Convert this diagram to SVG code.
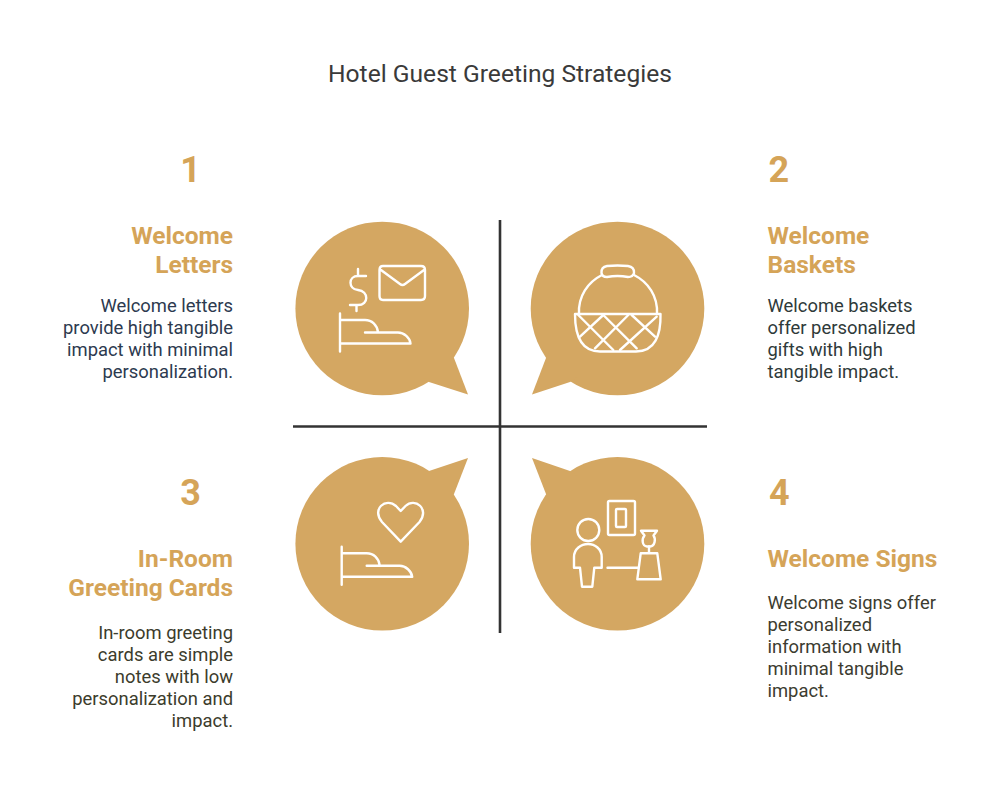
<svg xmlns="http://www.w3.org/2000/svg" width="1000" height="794" viewBox="0 0 1000 794">
<style>
text{font-family:Roboto,"Liberation Sans",sans-serif}
.t{font-size:24.6px;fill:#3a3a3a;text-anchor:middle}
.n{font-size:36px;font-weight:700;fill:#d5a458}
.h{font-size:24.5px;font-weight:700;fill:#d5a458}
.d{font-size:18.4px}
.e{text-anchor:end}
.b{fill:#d4a762}
.i{fill:none;stroke:#fff;stroke-width:2.4;stroke-linecap:round;stroke-linejoin:round}
.c{stroke:#333;stroke-width:2.6;fill:none}
</style>
<rect width="1000" height="794" fill="#fff"/>
<text class="t" x="500" y="82">Hotel Guest Greeting Strategies</text>
<g id="connectors">
<line class="c" x1="500" y1="220" x2="500" y2="633"/>
<line class="c" x1="293" y1="426.500" x2="707" y2="426.500"/>
</g>
<g id="node-1">
<circle class="b" cx="382.200" cy="308.500" r="86.800"/>
<polygon class="b" points="450,350 454,358 468,394.500 429,382 420,375"/>
<path class="i" d="M383,266 H421 Q425,266 425,270 V296 Q425,300 421,300 H383 Q379.500,300 379.500,296 V270 Q379.500,266 383,266 Z M381,270 L400,284 Q402.500,286 405,284 L424,270"/>
<path class="i" d="M366,276 H358 C348,276 348,289 358,290 C369,291 369,305 358,305 H350 M358,269 V276 M356.500,305 V311"/>
<path class="i" d="M340,313.500 V351.500 M340,320 H365 C372,320 377,325 378,332 M365,332.500 H398 C404,332.500 410,338 410.500,343.500 H340"/>
<text class="n e" x="201" y="182">1</text>
<text class="h e" x="233" y="244">Welcome</text>
<text class="h e" x="233" y="273">Letters</text>
<g fill="#2d3a4f">
<text class="d e" x="233" y="312">Welcome letters</text>
<text class="d e" x="233" y="334">provide high tangible</text>
<text class="d e" x="233" y="356">impact with minimal</text>
<text class="d e" x="233" y="378">personalization.</text>
</g>
</g>
<g id="node-2">
<circle class="b" cx="617.500" cy="308.500" r="86.800"/>
<polygon class="b" points="550,350 546,358 532,394.500 570,382 580,375"/>
<path class="i" d="M607,266 Q617.500,265 628,266 Q634.500,267 634,273 Q633,277 628,277 Q617.500,275 607,277 Q602,277 601.500,273 Q601,267 607,266 Z"/>
<path class="i" d="M579,314 C578,296 588,282 602,275 M634,275 C648,282 658,296 657,314"/>
<path class="i" d="M575,314 H660.500 C661,335 655,351.500 636,351.500 H600 C581,351.500 575,335 575,314 Z"/>
<path class="i" d="M578.300,315 L613.300,350 M603.300,315 L636.700,348.300 M631.700,315 L655,336.700 M656.700,316.700 L620,350 M628.300,315 L595,348.300 M603.300,315 L580,336.700"/>
<text class="n" x="768.500" y="182">2</text>
<text class="h" x="767.500" y="244">Welcome</text>
<text class="h" x="767.500" y="273">Baskets</text>
<g fill="#2f3a3a">
<text class="d" x="767.500" y="312">Welcome baskets</text>
<text class="d" x="767.500" y="334">offer personalized</text>
<text class="d" x="767.500" y="356">gifts with high</text>
<text class="d" x="767.500" y="378">tangible impact.</text>
</g>
</g>
<g id="node-3">
<circle class="b" cx="382.200" cy="543.800" r="86.800"/>
<polygon class="b" points="450,502 454,494 468,458 429,471 420,478"/>
<path class="i" d="M400.700,541.700 L382,522 C371,509 386,497 396,506 L400.700,511 L405.500,506 C415,497 430,509 419.500,522 Z"/>
<path class="i" d="M341.700,546.800 V584.800 M341.700,553.300 H366.700 C373.700,553.300 378.700,558.300 379.700,565.300 M366.700,565.800 H399.700 C405.700,565.800 411.700,571.300 412.200,576.800 H341.700"/>
<text class="n e" x="201" y="505">3</text>
<text class="h e" x="233" y="567">In-Room</text>
<text class="h e" x="233" y="596">Greeting Cards</text>
<g fill="#3c3c2c">
<text class="d e" x="233" y="639">In-room greeting</text>
<text class="d e" x="233" y="661">cards are simple</text>
<text class="d e" x="233" y="683">notes with low</text>
<text class="d e" x="233" y="705">personalization and</text>
<text class="d e" x="233" y="727">impact.</text>
</g>
</g>
<g id="node-4">
<circle class="b" cx="617.500" cy="543.800" r="86.800"/>
<polygon class="b" points="550,502 546,494 532,458 570,471 580,478"/>
<rect class="i" x="608" y="501" width="27" height="34" rx="1.500"/>
<rect class="i" x="616" y="509" width="10" height="18" rx="1"/>
<circle class="i" cx="588.300" cy="530" r="11"/>
<path class="i" d="M582,586.700 L580,567.700 H574 V557 C574,549 581,544 588,544 C595,544 601.700,549 601.700,557 V567.700 H594.300 L592.300,586.700 Z"/>
<path class="i" d="M607.500,567.700 H637.500 M640.700,553.300 H657.300 L660.700,579.300 H637.300 Z M649,553.300 V546.500"/>
<path class="i" d="M641,530.700 H657 L653.500,535.500 C656,539 655,546 650,546.500 H647 C642,546 641.500,539 644.500,535.500 Z"/>
<text class="n" x="769" y="505">4</text>
<text class="h" x="767.500" y="567">Welcome Signs</text>
<g fill="#3c3c30">
<text class="d" x="767.500" y="609">Welcome signs offer</text>
<text class="d" x="767.500" y="631">personalized</text>
<text class="d" x="767.500" y="653">information with</text>
<text class="d" x="767.500" y="675">minimal tangible</text>
<text class="d" x="767.500" y="697">impact.</text>
</g>
</g>
</svg>
